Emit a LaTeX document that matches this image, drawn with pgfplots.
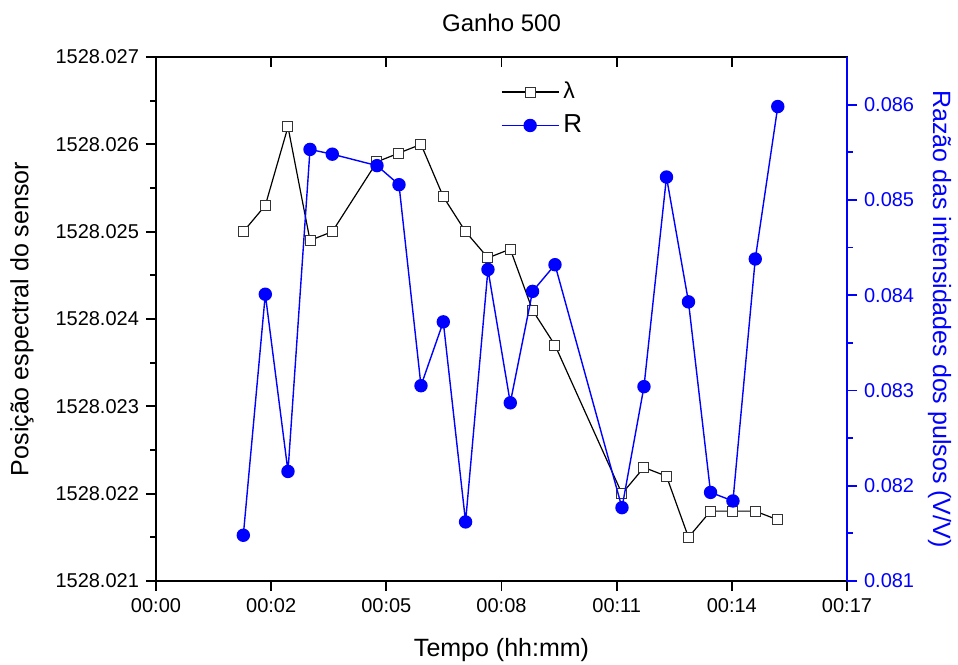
\documentclass[border=0pt]{standalone}
\usepackage{fontspec}
\setmainfont{Liberation Sans}
\usepackage{pgfplots}
\pgfplotsset{compat=1.18}
\usepackage{pgfplotstable}
\definecolor{rblue}{RGB}{0,0,255}

% t in minutes, lam = lambda - 1528 (nm), R in V/V
\pgfplotstableread{
t      lam     R
2.148  0.0250  0.08148
2.689  0.0253  0.08401
3.247  0.0262  0.08215
3.789  0.0249  0.08553
4.337  0.0250  0.08548
5.437  0.0258  0.08536
5.978  0.0259  0.08516
6.519  0.0260  0.08305
7.068  0.0254  0.08372
7.616  0.0250  0.08162
8.167  0.0247  0.08427
8.716  0.0248  0.08287
9.264  0.0241  0.08404
9.816  0.0237  0.08432
11.464 0.0220  0.08177
12.005 0.0223  0.08304
12.559 0.0222  0.08524
13.100 0.0215  0.08393
13.643 0.0218  0.08193
14.194 0.0218  0.08184
14.743 0.0218  0.08438
15.297 0.0217  0.08598
}\data

\begin{document}
\begin{tikzpicture}
\path[use as bounding box] (-78pt,-41.5pt) rectangle (401pt,290.5pt);
\pgfplotsset{
  base/.style={
    scale only axis, width=345.5pt, height=262pt,
    at={(0,0)}, anchor=south west,
    xmin=0, xmax=17,
    xtick={0,2.83333,5.66667,8.5,11.33333,14.16667,17},
    minor x tick num=1,
    scaled y ticks=false, scaled x ticks=false,
    tick label style={font=\fontsize{10}{12}\selectfont},
    label style={font=\fontsize{12.5}{15}\selectfont},
    major tick length=5pt, minor tick length=2.8pt,
    every tick/.style={line width=0.9pt},
    axis line style={line width=1pt},
    /pgf/number format/assume math mode=true,
  },
  legend image code/.code={%
    \draw[mark repeat=2,mark phase=2,#1] plot coordinates {(0cm,0cm) (0.5cm,0cm) (1cm,0cm)};},
}
% left axis: lambda
\begin{axis}[base,
  ymin=0.021, ymax=0.027,
  ytick={0.021,0.022,0.023,0.024,0.025,0.026,0.027},
  yticklabels={1528.021,1528.022,1528.023,1528.024,1528.025,1528.026,1528.027},
  minor y tick num=1,
  xticklabels={00:00,00:02,00:05,00:08,00:11,00:14,00:17},
  xtick pos=bottom, ytick pos=left, tick align=outside,
  xlabel={Tempo (hh:mm)},
  xlabel style={yshift=-6pt},
  ylabel={Posição espectral do sensor},
  ylabel style={yshift=4pt},
  title={Ganho 500},
  title style={font=\fontsize{12}{14}\selectfont, yshift=3pt},
]
\addplot[black, line width=0.6pt, mark=square*, mark size=2.5pt,
  mark options={fill=white, draw=black!80, line width=0.5pt}]
  table[x=t, y=lam] {\data};
\end{axis}
% top ticks (inward)
\begin{axis}[base,
  ymin=0, ymax=1, axis y line=none, axis x line*=top,
  xticklabels={}, tick align=inside,
]
\end{axis}
% right axis: R
\begin{axis}[base,
  ymin=0.081, ymax=0.0865,
  ytick={0.081,0.082,0.083,0.084,0.085,0.086},
  minor y tick num=1,
  axis x line=none, axis y line*=right, tick align=outside,
  y axis line style={rblue, line width=1pt},
  y tick style={rblue},
  minor y tick style={rblue},
  yticklabel style={rblue, /pgf/number format/fixed, /pgf/number format/precision=3, /pgf/number format/fixed zerofill},
  ylabel={Razão das intensidades dos pulsos (V/V)},
  ylabel style={rblue, rotate=180},
  legend style={at={(0.49,0.968)}, anchor=north west, draw=none, fill=none,
    font=\fontsize{13}{15}\selectfont, row sep=2.6pt},
  legend cell align=left,
]
\addlegendimage{black, line width=0.6pt, mark=square*, mark size=2.5pt,
  mark options={fill=white, draw=black!80, line width=0.5pt}}
\addlegendentry{\fontsize{11.5}{13}\selectfont λ}
\addplot[rblue, line width=0.7pt, mark=*, mark size=3pt,
  mark options={fill=rblue, draw=rblue}]
  table[x=t, y=R] {\data};
\addlegendentry{R}
\end{axis}
\end{tikzpicture}
\end{document}
